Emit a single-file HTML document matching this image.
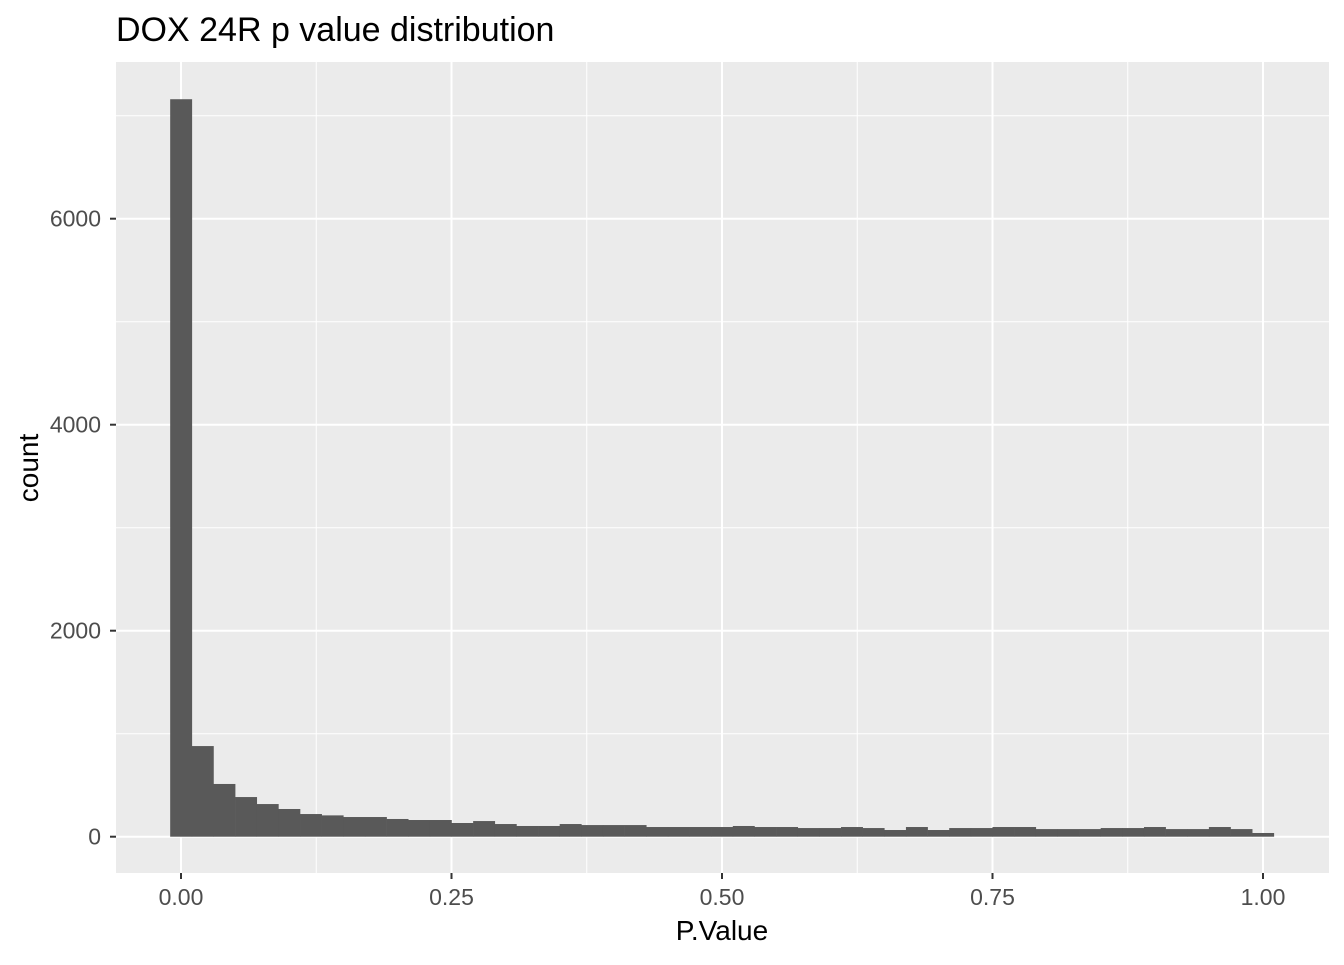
<!DOCTYPE html>
<html><head><meta charset="utf-8"><style>
body{margin:0;background:#fff;}
svg text{font-family:"Liberation Sans",Arial,sans-serif;}
</style></head><body>
<svg id="chart" width="1344" height="960" xmlns="http://www.w3.org/2000/svg">
<text x="116" y="41" font-size="34" fill="#000">DOX 24R p value distribution</text>
<rect x="116" y="62" width="1213" height="811" fill="#EBEBEB"/>
<g id="grid"></g>
<g id="bars"></g>
<g id="axes"></g>
<text x="722" y="940" font-size="28" text-anchor="middle" fill="#000">P.Value</text>
<text transform="translate(38,468) rotate(-90)" font-size="28" text-anchor="middle" fill="#000">count</text>
</svg>
<script>
const counts=[7160,880,512,385,317,269,220,207,191,191,172,162,162,133,152,123,104,104,123,113,113,113,94,94,94,94,104,94,94,84,84,94,84,65,94,65,84,84,94,94,74,74,74,84,84,94,74,74,94,74,36];
const xTicks=[0,0.25,0.5,0.75,1];
const xTickLabels=["0.00","0.25","0.50","0.75","1.00"];
const yTicks=[0,2000,4000,6000];
const yTickLabels=["0","2000","4000","6000"];
const binWidth=1/(counts.length-1);
const NS="http://www.w3.org/2000/svg";
const X=v=>181+v*1082;
const Y=v=>836.7-v*0.103;
const PL=116,PR=1329,PT=62,PB=873;
const grid=document.getElementById('grid'),bars=document.getElementById('bars'),axes=document.getElementById('axes');
function mk(tag,attrs,parent){const e=document.createElementNS(NS,tag);for(const k in attrs)e.setAttribute(k,attrs[k]);parent.appendChild(e);return e;}
for(let i=0;i<xTicks.length-1;i++){const m=(xTicks[i]+xTicks[i+1])/2;
const l=mk('line',{x1:X(m),x2:X(m),y1:PT,y2:PB,stroke:'#fff','stroke-width':1},grid);

}
for(let i=0;i<yTicks.length;i++){const m=yTicks[i]+1000;
const l=mk('line',{x1:PL,x2:PR,y1:Y(m),y2:Y(m),stroke:'#fff','stroke-width':1},grid);

}
xTicks.forEach((t,i)=>{
const l=mk('line',{x1:X(t),x2:X(t),y1:PT,y2:PB,stroke:'#fff','stroke-width':2},grid);


const tk=mk('line',{x1:X(t),x2:X(t),y1:PB,y2:PB+6,stroke:'#333','stroke-width':2},axes);


const tx=mk('text',{x:X(t),y:PB+32,'font-size':23,'text-anchor':'middle',fill:'#4D4D4D'},axes);
tx.textContent=xTickLabels[i];


});
yTicks.forEach((t,i)=>{
const l=mk('line',{x1:PL,x2:PR,y1:Y(t),y2:Y(t),stroke:'#fff','stroke-width':2},grid);


const tk=mk('line',{x1:PL-6,x2:PL,y1:Y(t),y2:Y(t),stroke:'#333','stroke-width':2},axes);


const tx=mk('text',{x:PL-15,y:Y(t)+8,'font-size':23,'text-anchor':'end',fill:'#4D4D4D'},axes);
tx.textContent=yTickLabels[i];


});
counts.forEach((c,i)=>{
const c0=i*binWidth;
const x0=X(c0-binWidth/2),x1=X(c0+binWidth/2);
const r=mk('rect',{x:x0,y:Y(c),width:x1-x0+0.3,height:Y(0)-Y(c),fill:'#595959'},bars);


});
</script>
</body></html>
